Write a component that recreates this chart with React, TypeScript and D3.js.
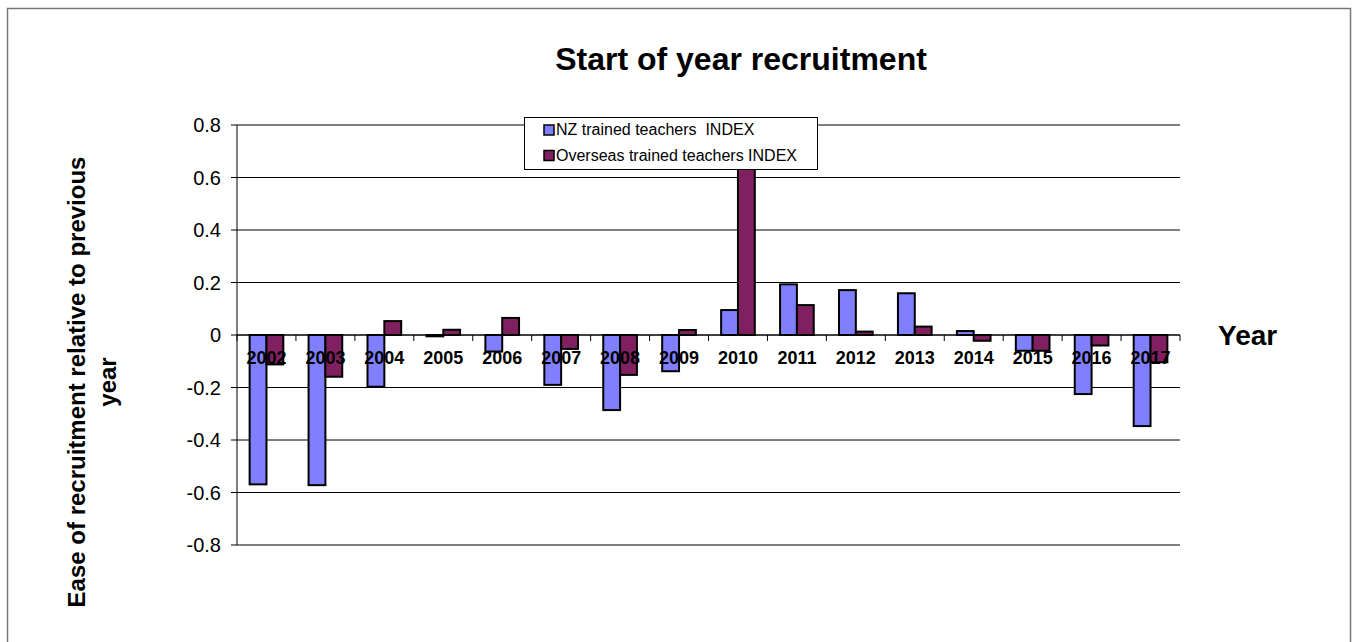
import React from "react";
import * as d3 from "d3";

const years = ["2002","2003","2004","2005","2006","2007","2008","2009","2010","2011","2012","2013","2014","2015","2016","2017"];
const nzIndex = [-0.569, -0.572, -0.197, -0.005, -0.063, -0.19, -0.286, -0.138, 0.095, 0.193, 0.171, 0.159, 0.015, -0.06, -0.225, -0.347];
const overseasIndex = [-0.112, -0.159, 0.053, 0.02, 0.065, -0.053, -0.152, 0.019, 0.72, 0.114, 0.013, 0.032, -0.022, -0.06, -0.04, -0.104];
const yTicks = [0.8, 0.6, 0.4, 0.2, 0, -0.2, -0.4, -0.6, -0.8];
const seriesNames = ["NZ trained teachers  INDEX", "Overseas trained teachers INDEX"];
const seriesColors = ["#8080FF", "#802060"];

const FONT = "'Liberation Sans', Arial, sans-serif";

export default function App() {
  const W = 1354, H = 642;
  const left = 237, right = 1180, top = 125, bottom = 545;
  const x = d3.scaleBand<string>().domain(years).range([left, right]).paddingInner(0).paddingOuter(0);
  const sub = d3.scaleBand<string>().domain(["nz", "os"]).range([0, x.bandwidth()]).paddingInner(0).paddingOuter(0.75);
  const y = d3.scaleLinear().domain([-0.8, 0.8]).range([bottom, top]);
  const series = [nzIndex, overseasIndex];
  const keys = ["nz", "os"];
  const y0 = y(0);
  const fmt = (v: number) => (v === 0 ? "0" : d3.format(".1f")(v).replace("\u2212", "-"));

  const tickXs = years.map((yr) => x(yr)!).concat([right]);

  return (
    <svg width={W} height={H} style={{ position: "absolute", left: 0, top: 0, background: "#fff" }} fontFamily={FONT}>
      <rect x={0} y={0} width={W} height={H} fill="#fff" />
      <rect x={7.5} y={8.5} width={1343} height={H + 10} fill="none" stroke="#777" strokeWidth={1.5} />
      <text x={741} y={70} textAnchor="middle" fontWeight="bold" fontSize={32}>Start of year recruitment</text>

      {yTicks.map((t) => (
        <g key={t}>
          <line x1={left} x2={right} y1={y(t)} y2={y(t)} stroke="#000" strokeWidth={1} />
          <line x1={left - 6} x2={left} y1={y(t)} y2={y(t)} stroke="#000" strokeWidth={1} />
          <text x={221} y={y(t) + 7} textAnchor="end" fontSize={20}>{fmt(t)}</text>
        </g>
      ))}

      {years.map((yr, i) =>
        series.map((s, k) => {
          const v = s[i];
          const bx = x(yr)! + sub(keys[k])!;
          const by = Math.min(y(v), y0);
          const bh = Math.abs(y(v) - y0);
          return (
            <rect key={yr + k} x={bx} y={by} width={sub.bandwidth()} height={bh}
              fill={seriesColors[k]} stroke="#000" strokeWidth={2} />
          );
        })
      )}

      <line x1={left} x2={left} y1={top} y2={bottom} stroke="#000" strokeWidth={1} />
      <line x1={left} x2={right} y1={y0} y2={y0} stroke="#000" strokeWidth={1} />
      {tickXs.map((tx, i) => (
        <line key={i} x1={tx} x2={tx} y1={y0} y2={y0 + 6} stroke="#000" strokeWidth={1} />
      ))}
      {years.map((yr) => (
        <text key={yr} x={x(yr)! + x.bandwidth() / 2} y={364} textAnchor="middle" fontWeight="bold" fontSize={18}>{yr}</text>
      ))}

      <text x={1218} y={345} fontWeight="bold" fontSize={28}>Year</text>

      <g transform="translate(85,382) rotate(-90)">
        <text x={0} y={0} textAnchor="middle" fontWeight="bold" fontSize={24}>Ease of recruitment relative to previous</text>
        <text x={0} y={31} textAnchor="middle" fontWeight="bold" fontSize={24}>year</text>
      </g>

      <g>
        <rect x={524.5} y={117.5} width={293} height={52} fill="#fff" stroke="#000" strokeWidth={1} />
        {seriesNames.map((n, k) => (
          <g key={n}>
            <rect x={544} y={125 + k * 25.5} width={10} height={10} fill={seriesColors[k]} stroke="#000" strokeWidth={1.5} />
            <text x={556} y={135 + k * 25.5} fontSize={16} style={{ whiteSpace: "pre" }}>{n}</text>
          </g>
        ))}
      </g>
    </svg>
  );
}
